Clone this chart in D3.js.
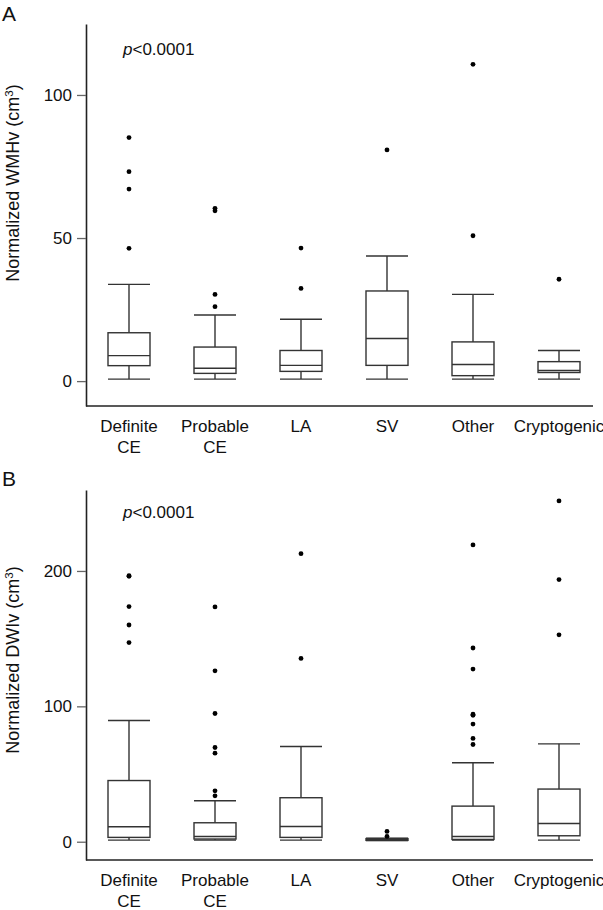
<!DOCTYPE html>
<html>
<head>
<meta charset="utf-8">
<script src="https://cdn.jsdelivr.net/npm/d3@7"></script>
<style>
  body { margin: 0; background: #fff; }
  svg { font-family: "Liberation Sans", Arial, sans-serif; }
</style>
</head>
<body>
<div class="chart"></div>
<script>
var svgWidth = 603;
var svgHeight = 910;

// categories on the x axis (second line after "|")
var categories = ["Definite|CE", "Probable|CE", "LA", "SV", "Other", "Cryptogenic"];

// panel A: [whisker low, Q1, median, Q3, whisker high]
var wmhvBoxes = [
  [0.7, 5.4, 8.9, 16.9, 33.8],
  [0.7, 2.7, 4.5, 11.9, 23.1],
  [0.7, 3.4, 5.5, 10.7, 21.6],
  [0.7, 5.5, 14.9, 31.5, 43.7],
  [0.7, 1.9, 5.8, 13.7, 30.3],
  [0.7, 3.0, 3.7, 6.8, 10.7]
];
var wmhvOutliers = [
  [85.1, 73.2, 67.1, 46.4],
  [60.4, 59.5, 30.3, 26.0],
  [46.5, 32.4],
  [80.8],
  [110.7, 50.8],
  [35.6]
];
var wmhvTicks = [0, 50, 100];

// panel B
var dwivBoxes = [
  [1.2, 3.2, 11.1, 45.2, 89.5],
  [1.2, 2.0, 3.9, 14.0, 30.3],
  [1.2, 3.2, 11.3, 32.5, 70.3],
  [0.8, 1.0, 1.5, 2.3, 2.6],
  [1.2, 1.7, 3.9, 26.3, 58.3],
  [1.2, 4.4, 13.5, 38.9, 72.3]
];
var dwivOutliers = [
  [196.5, 196.0, 173.7, 160.1, 147.1],
  [173.4, 126.2, 94.7, 69.6, 65.4, 37.6, 33.9],
  [212.8, 135.4],
  [7.6, 3.9],
  [219.2, 143.1, 127.5, 94.2, 93.4, 86.9, 76.3, 71.8],
  [251.7, 193.6, 152.8]
];
var dwivTicks = [0, 100, 200];

var svg = d3.select(".chart")
  .append("svg")
  .attr("width", svgWidth)
  .attr("height", svgHeight);

var xScale = d3.scalePoint()
  .domain(categories)
  .range([129, 559]);

var boxWidth = 42;

function drawPanel(opts) {
  var g = svg.append("g");

  var yScale = d3.scaleLinear()
    .domain(opts.domain)
    .range([opts.bottom, opts.top]);

  // panel letter
  g.append("text")
    .attr("x", 2)
    .attr("y", opts.letterY)
    .attr("font-size", "21px")
    .attr("fill", "#111")
    .text(opts.letter);

  // y axis
  var leftAxis = d3.axisLeft(yScale)
    .tickValues(opts.ticks)
    .tickSize(9)
    .tickSizeOuter(0)
    .tickPadding(5);

  var yAxis = g.append("g")
    .attr("transform", "translate(86,0)")
    .call(leftAxis);
  yAxis.select(".domain").attr("stroke", "#222").attr("stroke-width", 1.6);
  yAxis.selectAll(".tick line").attr("stroke", "#666").attr("stroke-width", 1.3);
  yAxis.selectAll(".tick text")
    .attr("font-size", "17px")
    .attr("fill", "#111")
    .attr("font-family", "Liberation Sans, Arial, sans-serif");

  // x axis line
  g.append("line")
    .attr("x1", 86).attr("x2", 593)
    .attr("y1", opts.bottom).attr("y2", opts.bottom)
    .attr("stroke", "#222")
    .attr("stroke-width", 1.6);

  // category labels
  var labels = g.selectAll(".cat")
    .data(categories)
    .enter()
    .append("text")
    .attr("class", "cat")
    .attr("text-anchor", "middle")
    .attr("font-size", "17px")
    .attr("fill", "#111");
  labels.each(function (d) {
    var parts = d.split("|");
    var t = d3.select(this);
    parts.forEach(function (p, i) {
      t.append("tspan")
        .attr("x", xScale(d))
        .attr("y", opts.bottom + 26 + i * 21)
        .text(p);
    });
  });

  // y label
  var yl = g.append("text")
    .attr("transform", "translate(19," + opts.labelY + ") rotate(-90)")
    .attr("text-anchor", "middle")
    .attr("font-size", "18px")
    .attr("fill", "#111");
  yl.append("tspan").text(opts.yLabel + " (cm");
  yl.append("tspan").attr("dy", -6).attr("font-size", "11.5px").text("3");
  yl.append("tspan").attr("dy", 6).text(")");

  // p value
  var pt = g.append("text")
    .attr("x", 123)
    .attr("y", opts.pY)
    .attr("font-size", "17px")
    .attr("fill", "#111");
  pt.append("tspan").attr("font-style", "italic").text("p");
  pt.append("tspan").text("<0.0001");

  // boxes
  var boxes = g.selectAll(".box")
    .data(opts.boxes)
    .enter()
    .append("g")
    .attr("class", "box")
    .attr("transform", (d, i) => "translate(" + xScale(categories[i]) + ",0)")
    .attr("stroke", "#333")
    .attr("stroke-width", 1.4)
    .attr("fill", "none");

  // whisker stems
  boxes.append("line")
    .attr("x1", 0).attr("x2", 0)
    .attr("y1", d => yScale(d[0])).attr("y2", d => yScale(d[1]));
  boxes.append("line")
    .attr("x1", 0).attr("x2", 0)
    .attr("y1", d => yScale(d[3])).attr("y2", d => yScale(d[4]));
  // caps
  boxes.append("line")
    .attr("x1", -boxWidth / 2).attr("x2", boxWidth / 2)
    .attr("y1", d => yScale(d[0])).attr("y2", d => yScale(d[0]));
  boxes.append("line")
    .attr("x1", -boxWidth / 2).attr("x2", boxWidth / 2)
    .attr("y1", d => yScale(d[4])).attr("y2", d => yScale(d[4]));
  // box
  boxes.append("rect")
    .attr("x", -boxWidth / 2)
    .attr("width", boxWidth)
    .attr("y", d => yScale(d[3]))
    .attr("height", d => yScale(d[1]) - yScale(d[3]))
    .attr("fill", "#fff");
  // median
  boxes.append("line")
    .attr("x1", -boxWidth / 2).attr("x2", boxWidth / 2)
    .attr("y1", d => yScale(d[2])).attr("y2", d => yScale(d[2]));

  // outliers
  opts.outliers.forEach(function (vals, i) {
    g.selectAll(null)
      .data(vals)
      .enter()
      .append("circle")
      .attr("cx", xScale(categories[i]))
      .attr("cy", d => yScale(d))
      .attr("r", 2.4)
      .attr("fill", "#000");
  });
}

drawPanel({
  letter: "A", letterY: 21,
  top: 24, bottom: 406, domain: [-8.7, 124.8],
  ticks: wmhvTicks, boxes: wmhvBoxes, outliers: wmhvOutliers,
  yLabel: "Normalized WMHv", labelY: 183, pY: 55
});

drawPanel({
  letter: "B", letterY: 486,
  top: 490, bottom: 860, domain: [-13.5, 259.8],
  ticks: dwivTicks, boxes: dwivBoxes, outliers: dwivOutliers,
  yLabel: "Normalized DWIv", labelY: 660, pY: 518
});
</script>
</body>
</html>
